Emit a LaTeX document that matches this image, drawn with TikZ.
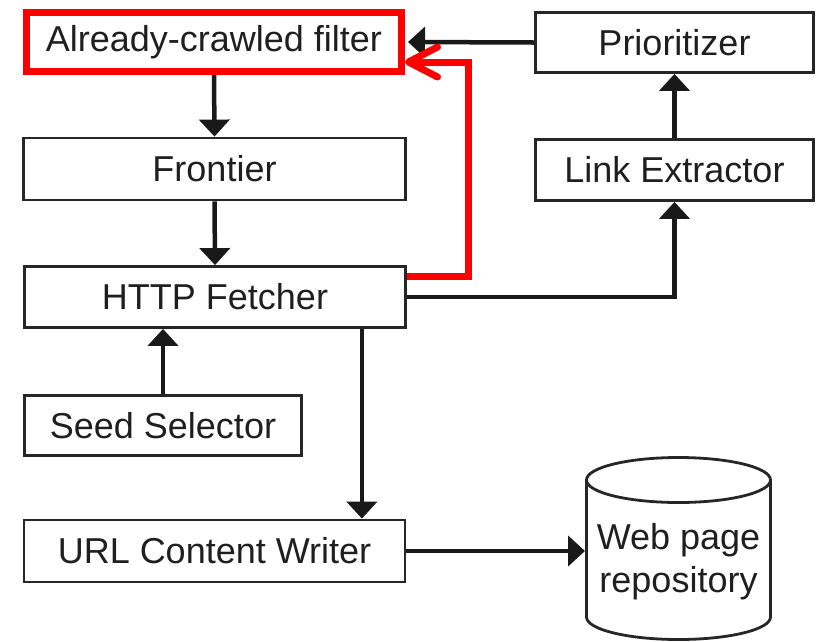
\documentclass[tikz,border=0pt]{standalone}
\usepackage{fontspec}
\setmainfont{Liberation Sans}
\usetikzlibrary{arrows.meta,calc}
\begin{document}
\begin{tikzpicture}[x=1pt,y=-1pt,
  box/.style={draw=black!85, line width=2.8pt, rectangle, inner sep=0pt,
    font=\fontsize{36}{43}\selectfont, text=black!88},
  redbox/.style={box, draw=red, line width=7pt},
  arr/.style={line width=4.5pt, black!90, -{Triangle[width=30pt,length=17pt]}},
  redarr/.style={line width=7pt, red, -{Straight Barb[length=29pt,width=30pt,line width=7pt,round]}},
  cyl/.style={draw=black!85, line width=2.8pt},
]
\useasboundingbox (0,0) rectangle (820,641);
% nodes
\node[redbox, minimum width=375pt, minimum height=59pt] (filter) at (214,42) {Already-crawled filter};
\node[box, minimum width=382pt, minimum height=62pt] (frontier) at (214.5,169) {Frontier};
\node[box, minimum width=381pt, minimum height=61pt] (http) at (215,297) {HTTP Fetcher};
\node[box, minimum width=277pt, minimum height=60pt] (seed) at (163,425.5) {Seed Selector};
\node[box, minimum width=381pt, minimum height=62pt] (url) at (214.5,551) {URL Content Writer};
\node[box, minimum width=278pt, minimum height=60pt] (prio) at (674.5,42.5) {Prioritizer};
\node[box, minimum width=278pt, minimum height=61pt] (link) at (674.5,170) {Link Extractor};
% cylinder geometry
\coordinate (ctop) at (678.5,480);
\coordinate (cbot) at (678.5,617);
\node[box, draw=none, outer sep=0pt, minimum width=184pt, align=center] (repo) at (678.5,562) {Web page\\repository};
% cylinder outline
\draw[cyl] ($(ctop)+(-92,0)$) -- ($(cbot)+(-92,0)$)
  .. controls +(0,12.43) and +(-50.8,0) .. ($(cbot)+(0,22.5)$)
  .. controls +(50.8,0) and +(0,12.43) .. ($(cbot)+(92,0)$) -- ($(ctop)+(92,0)$);
\draw[cyl] (ctop) ellipse [x radius=92, y radius=22.5];
% connectors
\draw[arr] (filter.south) -- (frontier.north);
\draw[arr] (frontier.south) -- (http.north);
\draw[arr] (seed.north) -- (http.south -| seed.north);
\draw[arr] ($(http.south east)+(-45,0)$) coordinate (d1) -- (d1 |- url.north);
\draw[arr] (url.east) -- ($(url.east -| repo.west)+(-1.5,0)$);
\draw[arr] (http.east) -| (link.south);
\draw[arr] (link.north) -- (prio.south);
\draw[arr] (prio.west) -- ($(filter.east)+(3,0)$);
\draw[redarr] ($(http.east)+(0,-21)$) coordinate (r0) -- ++(62,0) coordinate (r1)
  -- (r1 |- 0,62) -- ($(filter.east)+(0,20)$);
\end{tikzpicture}
\end{document}
